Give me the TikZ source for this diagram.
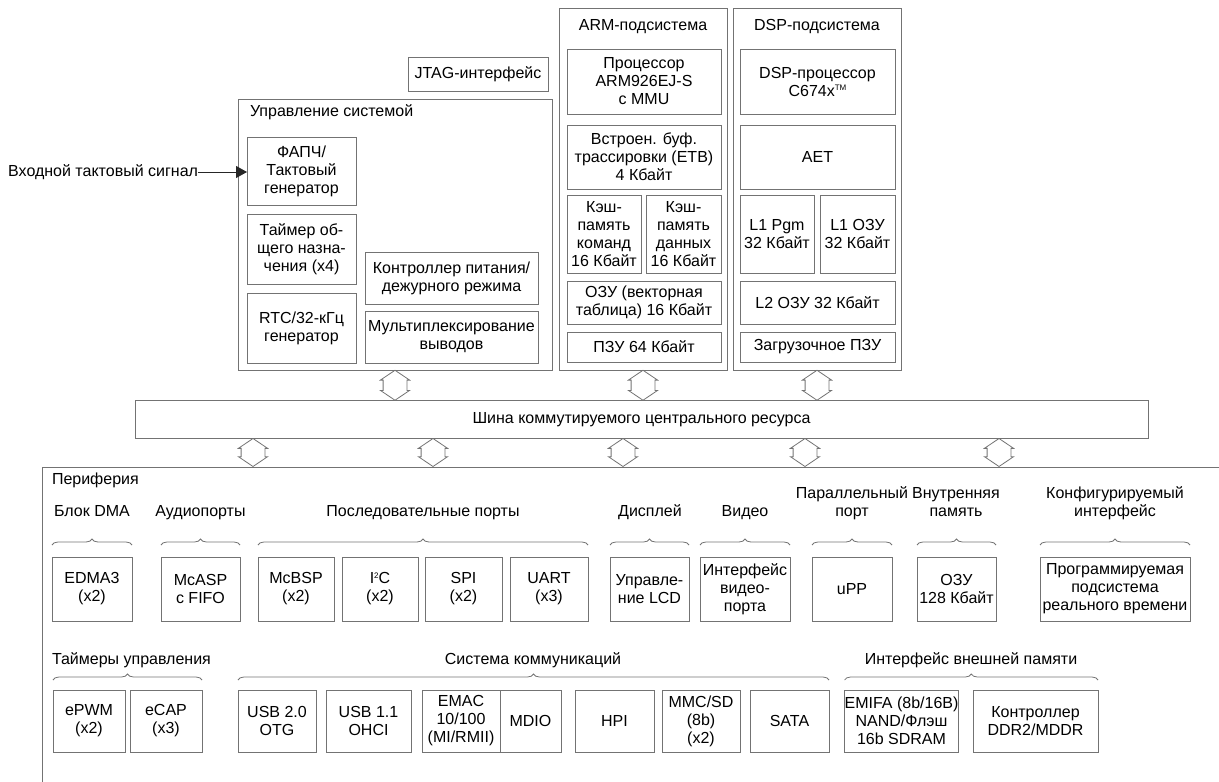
\documentclass[tikz,border=0pt]{standalone}
\usepackage{fontspec}
\setmainfont{Liberation Sans}
\usetikzlibrary{calc, positioning, arrows.meta, shapes.arrows, decorations.pathreplacing}
\newcommand{\smallsup}[1]{\raisebox{5.5pt}{\fontsize{8}{8}\selectfont #1}}

\begin{document}
\begin{tikzpicture}[x=1pt, y=-1pt, every node/.style={font=\fontsize{16}{18}\selectfont, inner sep=0pt, outer sep=0pt},
  blk/.style={draw=black!55, line width=1pt, align=center},
  sz/.style 2 args={minimum width=#1pt, minimum height=#2pt},
  grp/.style={anchor=south, align=center, text depth=4pt},
  brc/.style={draw=black!55, line width=0.8pt, decorate, decoration={brace, amplitude=6pt}},
  dbl/.style={double arrow, draw=black!55, line width=0.8pt, rotate=90, inner xsep=0pt, inner ysep=11.5pt, double arrow head extend=2.7pt, double arrow tip angle=112}]
  \useasboundingbox (0,0) rectangle (1219,782);

  % system control
  \node[blk, sz={140}{34}] (jtag) at (478,74) {JTAG-интерфейс};
  \node[blk, sz={314}{271}] (sys) at (395,234.5) {};
  \node[anchor=west] (systitle) at (250,112) {Управление системой};
  \node[blk, sz={109}{68}] (pll) at (301.5,171) {ФАПЧ/\\Тактовый\\генератор};
  \node[blk, sz={109}{70}] (gpt) at (301.5,249) {Таймер об-\\щего назна-\\чения (x4)};
  \node[blk, sz={109}{70}] (rtc) at (301.5,328) {RTC/32-кГц\\генератор};
  \node[blk, sz={173}{52}] (psc) at (451.5,278) {Контроллер питания/\\дежурного режима};
  \node[blk, sz={173}{52}] (pinmux) at (451.5,337) {Мультиплексирование\\выводов};
  \node[anchor=east] (clkin) at (198,172) {Входной тактовый сигнал};
  \draw[-{Triangle[length=11pt,width=12pt]}, black!85, line width=0.8pt] (clkin.east) -- (clkin.east -| pll.west);

  % ARM
  \node[blk, sz={168}{362}] (arm) at (643,189) {};
  \node (armtitle) at (643,27) {ARM-подсистема};
  \node[blk, sz={154}{65}] (armcpu) at (644,81.5) {Процессор\\ARM926EJ-S\\с MMU};
  \node[blk, sz={154}{64}] (etb) at (644,157) {Встроен. буф.\\трассировки (ETB)\\4 Кбайт};
  \node[blk, sz={74}{78}] (icache) at (604,234) {Кэш-\\память\\команд\\16 Кбайт};
  \node[blk, sz={75}{78}] (dcache) at (683.5,234) {Кэш-\\память\\данных\\16 Кбайт};
  \node[blk, sz={154}{43}] (vecram) at (644,302.5) {ОЗУ (векторная\\таблица) 16 Кбайт};
  \node[blk, sz={154}{30}] (armrom) at (644,347) {ПЗУ 64 Кбайт};

  % DSP
  \node[blk, sz={168}{362}] (dsp) at (817,189) {};
  \node (dsptitle) at (817,27) {DSP-подсистема};
  \node[blk, sz={155}{65}] (dspcpu) at (817.5,81.5) {DSP-процессор\\C674x\smallsup{TM}};
  \node[blk, sz={155}{64}] (aet) at (817.5,157) {AET};
  \node[blk, sz={74}{78}] (lonep) at (777,234) {L1 Pgm\\32 Кбайт};
  \node[blk, sz={75}{78}] (loned) at (857.5,234) {L1 ОЗУ\\32 Кбайт};
  \node[blk, sz={155}{43}] (ltwo) at (817.5,302.5) {L2 ОЗУ 32 Кбайт};
  \node[blk, sz={155}{30}] (boot) at (817.5,347) {Загрузочное ПЗУ};

  % bus
  \node[blk, sz={1013}{38}] (bus) at (641.5,419.5) {Шина коммутируемого центрального ресурса};
  \node[dbl, minimum height=30pt] (up1) at ($(sys.south)!0.5!(sys.south |- bus.north)$) {};
  \node[dbl, minimum height=30pt] (up2) at ($(arm.south)!0.5!(arm.south |- bus.north)$) {};
  \node[dbl, minimum height=30pt] (up3) at ($(dsp.south)!0.5!(dsp.south |- bus.north)$) {};
  \foreach \x [count=\i] in {253,433,623,805,999}
    \node[dbl, minimum height=28pt] (dn\i) at (\x,452.5) {};

  % peripherals
  \draw[black!55, line width=1pt] (1219,467) -- (42,467) -- (42,782);
  \node[anchor=west] (peri) at (52,480) {Периферия};

  \node[blk, sz={80}{64}] (edma) at (92,589) {EDMA3\\(x2)};
  \node[blk, sz={79}{64}] (mcasp) at (200.5,589) {McASP\\с FIFO};
  \node[blk, sz={76}{64}] (mcbsp) at (296,589) {McBSP\\(x2)};
  \node[blk, sz={76}{64}] (iic) at (380,589) {I\smallsup{2}C\\(x2)};
  \node[blk, sz={77}{64}] (spi) at (463.5,589) {SPI\\(x2)};
  \node[blk, sz={78}{64}] (uart) at (549,589) {UART\\(x3)};
  \node[blk, sz={79}{64}] (lcd) at (649.5,589) {Управле-\\ние LCD};
  \node[blk, sz={90}{64}] (vpif) at (745,589) {Интерфейс\\видео-\\порта};
  \node[blk, sz={80}{64}] (upp) at (852,589) {uPP};
  \node[blk, sz={79}{64}] (ram) at (956.5,589) {ОЗУ\\128 Кбайт};
  \node[blk, sz={150}{64}] (pru) at (1115,589) {Программируемая\\подсистема\\реального времени};

  \draw[brc] ([yshift=12pt]edma.north west) -- ([yshift=12pt]edma.north east);
  \draw[brc] ([yshift=12pt]mcasp.north west) -- ([yshift=12pt]mcasp.north east);
  \draw[brc] ([yshift=12pt]mcbsp.north west) -- ([yshift=12pt]uart.north east);
  \draw[brc] ([yshift=12pt]lcd.north west) -- ([yshift=12pt]lcd.north east);
  \draw[brc] ([yshift=12pt]vpif.north west) -- ([yshift=12pt]vpif.north east);
  \draw[brc] ([yshift=12pt]upp.north west) -- ([yshift=12pt]upp.north east);
  \draw[brc] ([yshift=12pt]ram.north west) -- ([yshift=12pt]ram.north east);
  \draw[brc] ([yshift=12pt]pru.north west) -- ([yshift=12pt]pru.north east);

  \node[grp] (dmalbl) at (92,520) {Блок DMA};
  \node[grp] (audlbl) at (200.5,520) {Аудиопорты};
  \node[grp] (serlbl) at (423,520) {Последовательные порты};
  \node[grp] (displbl) at (650,520) {Дисплей};
  \node[grp] (vidlbl) at (745,520) {Видео};
  \node[grp] (parlbl) at (852,520) {Параллельный\\порт};
  \node[grp] (memlbl) at (956,520) {Внутренняя\\память};
  \node[grp] (cfglbl) at (1115,520) {Конфигурируемый\\интерфейс};

  \node[blk, sz={72}{62}] (epwm) at (89,721) {ePWM\\(x2)};
  \node[blk, sz={72}{62}] (ecap) at (166,721) {eCAP\\(x3)};
  \node[blk, sz={78}{62}] (usbtwo) at (277,721) {USB 2.0\\OTG};
  \node[blk, sz={85}{62}] (usbone) at (368.5,721) {USB 1.1\\OHCI};
  \node[blk, sz={78}{62}] (emac) at (461,721) {EMAC\\10/100\\(MI/RMII)};
  \node[blk, sz={61}{62}] (mdio) at (530.5,721) {MDIO};
  \node[blk, sz={79}{62}] (hpi) at (614.5,721) {HPI};
  \node[blk, sz={78}{62}] (mmc) at (701,721) {MMC/SD\\(8b)\\(x2)};
  \node[blk, sz={79}{62}] (sata) at (789.5,721) {SATA};
  \node[blk, sz={113}{62}] (emifa) at (901.5,721) {EMIFA (8b/16B)\\NAND/Флэш\\16b SDRAM};
  \node[blk, sz={125}{62}] (ddr) at (1035.5,721) {Контроллер\\DDR2/MDDR};

  \draw[brc] ([yshift=10pt]epwm.north west) -- ([yshift=10pt]ecap.north east);
  \draw[brc] ([yshift=10pt]usbtwo.north west) -- ([yshift=10pt]sata.north east);
  \draw[brc] ([yshift=10pt]emifa.north west) -- ([yshift=10pt]ddr.north east);

  \node[grp, anchor=south west] (tmrlbl) at (52,668) {Таймеры управления};
  \node[grp] (comlbl) at (533,668) {Система коммуникаций};
  \node[grp] (emlbl) at (971,668) {Интерфейс внешней памяти};
\end{tikzpicture}
\end{document}
